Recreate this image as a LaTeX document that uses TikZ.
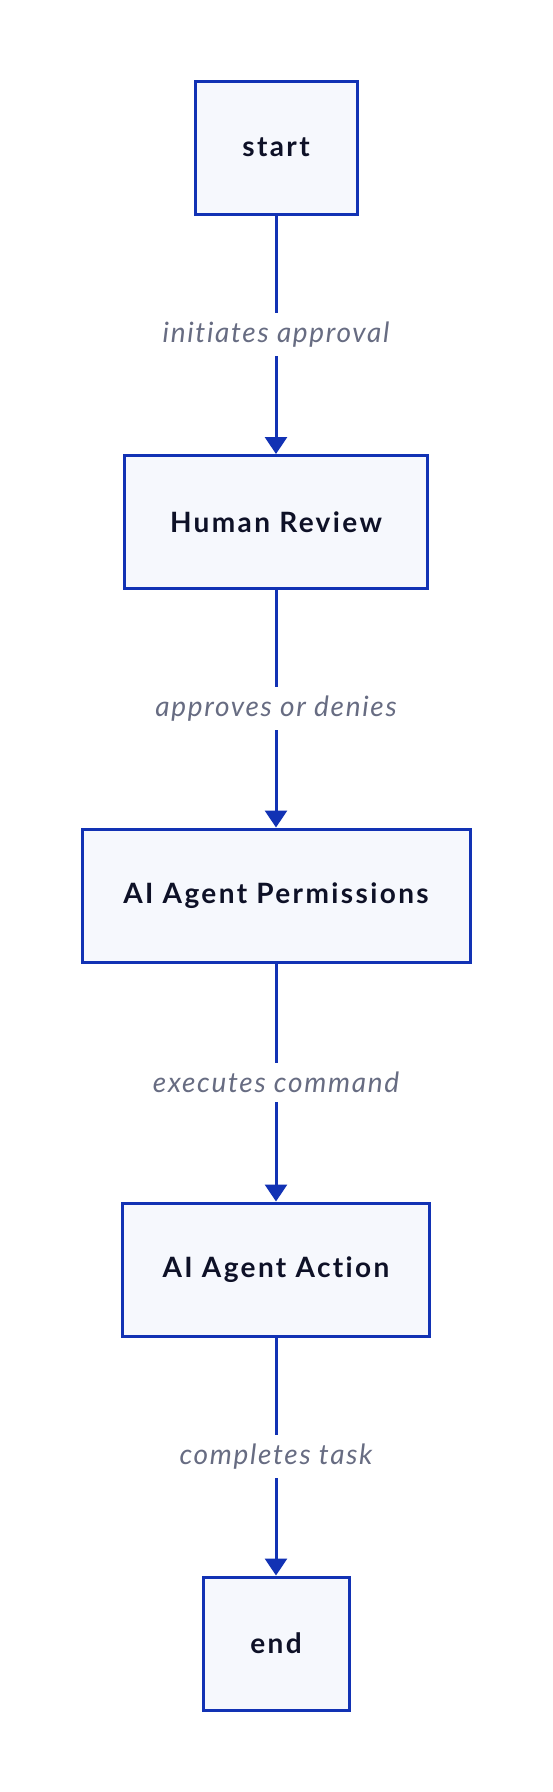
\documentclass[tikz,border=0pt]{standalone}
\usepackage{fontspec}
\setmainfont{Lato}
\newfontfamily\boxfont[LetterSpace=8.5,Ligatures=NoCommon]{Lato}
\newfontfamily\labelfont[LetterSpace=6,Ligatures=NoCommon]{Lato}
\usetikzlibrary{arrows.meta}
\definecolor{edgeblue}{HTML}{1232B4}
\definecolor{boxfill}{HTML}{F6F8FD}
\definecolor{nodetext}{HTML}{0E1127}
\definecolor{labelgrey}{HTML}{676C82}
\tikzset{
  flowbox/.style={draw=edgeblue, line width=3pt, fill=boxfill, rectangle,
    minimum height=133pt, inner sep=0pt, text=nodetext,
    font=\boxfont\fontsize{28pt}{32pt}\selectfont\bfseries},
  flowarrow/.style={draw=edgeblue, line width=3pt,
    -{Triangle[length=17pt,width=22pt]}},
  flowlabel/.style={fill=white, text=labelgrey, inner xsep=3pt, inner ysep=9pt,
    font=\labelfont\fontsize{28pt}{32pt}\selectfont\itshape}
}
\begin{document}
\begin{tikzpicture}[x=1pt,y=1pt]
\useasboundingbox (0,0) rectangle (552,-1792);
\fill[white] (0,0) rectangle (552,-1792);
\node[flowbox, minimum width=162pt] (start) at (276,-147.5) {start};
\node[flowbox, minimum width=303pt] (review) at (276,-522) {Human Review};
\node[flowbox, minimum width=388pt] (perm) at (276,-895.5) {AI Agent Permissions};
\node[flowbox, minimum width=307pt] (action) at (276,-1269.5) {AI Agent Action};
\node[flowbox, minimum width=146pt] (end) at (276,-1643.5) {end};
\draw[flowarrow] (start) -- node[flowlabel] {initiates approval} (review);
\draw[flowarrow] (review) -- node[flowlabel] {approves or denies} (perm);
\draw[flowarrow] (perm) -- node[flowlabel] {executes command} (action);
\draw[flowarrow] (action) -- node[flowlabel] {completes task} (end);
\end{tikzpicture}
\end{document}
